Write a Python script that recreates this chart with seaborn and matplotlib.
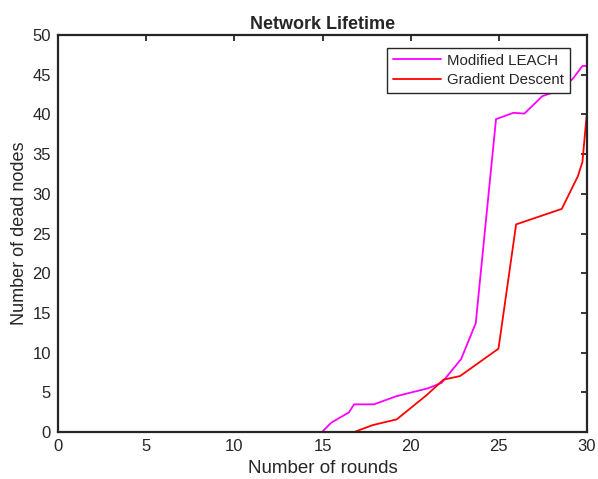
import matplotlib
matplotlib.use("Agg")
import matplotlib.pyplot as plt
import seaborn as sns
import pandas as pd

# Data
leach_x = [0, 14.97, 15.49, 16.5, 16.79, 17.92, 19.21, 20.97, 21.76, 22.86, 23.69, 24.84, 25.83, 26.45, 27.47, 28.0, 28.6, 29.2, 29.74, 30.0]
leach_y = [0, 0, 1.17, 2.48, 3.49, 3.49, 4.53, 5.5, 6.2, 9.19, 13.7, 39.4, 40.2, 40.1, 42.3, 42.7, 43.3, 44.5, 46.1, 46.1]
gd_x = [0, 16.79, 17.85, 19.21, 20.91, 21.86, 22.8, 24.98, 25.98, 28.57, 29.48, 29.74, 29.99]
gd_y = [0, 0, 0.88, 1.6, 4.66, 6.6, 7.05, 10.5, 26.15, 28.1, 32.2, 34.0, 40.1]
x_ticks = [0, 5, 10, 15, 20, 25, 30]
y_ticks = [0, 5, 10, 15, 20, 25, 30, 35, 40, 45, 50]

sns.set_theme(style="white")
plt.rcParams['font.family'] = ['Liberation Sans', 'DejaVu Sans']

df = pd.concat([
    pd.DataFrame({"x": leach_x, "y": leach_y, "s": "Modified LEACH"}),
    pd.DataFrame({"x": gd_x, "y": gd_y, "s": "Gradient Descent"}),
], ignore_index=True)

fig = plt.figure(figsize=(5.98, 4.79), dpi=100)
ax = fig.add_axes([0.097, 0.098, 0.8846, 0.829])
sns.lineplot(data=df, x="x", y="y", hue="s",
             palette={"Modified LEACH": "#ff00ff", "Gradient Descent": "#ff0000"},
             sort=False, estimator=None, linewidth=1.3, ax=ax)

ax.set_xlim(0, 30)
ax.set_ylim(0, 50)
ax.set_xticks(x_ticks)
ax.set_yticks(y_ticks)
ax.tick_params(direction="in", top=True, right=True, length=4, width=1.3,
               labelsize=12, colors="#262626", pad=5)
for sp in ax.spines.values():
    sp.set_color("#262626")
    sp.set_linewidth(1.6)
ax.set_xlabel("Number of rounds", fontsize=13.5, color="#262626", labelpad=4)
ax.set_ylabel("Number of dead nodes", fontsize=13, color="#262626", labelpad=3)
ax.set_title("Network Lifetime", fontsize=13, fontweight="bold", pad=4)
leg = ax.legend(loc="upper right", bbox_to_anchor=(0.9685, 0.968), fontsize=10.8,
                frameon=True, fancybox=False, edgecolor="#262626", handlelength=3.2,
                borderpad=0.4, labelspacing=0.35, handletextpad=0.45, borderaxespad=0)
leg.get_frame().set_linewidth(1.0)
leg.get_frame().set_alpha(1)
fig.savefig("out.png", dpi=100)
